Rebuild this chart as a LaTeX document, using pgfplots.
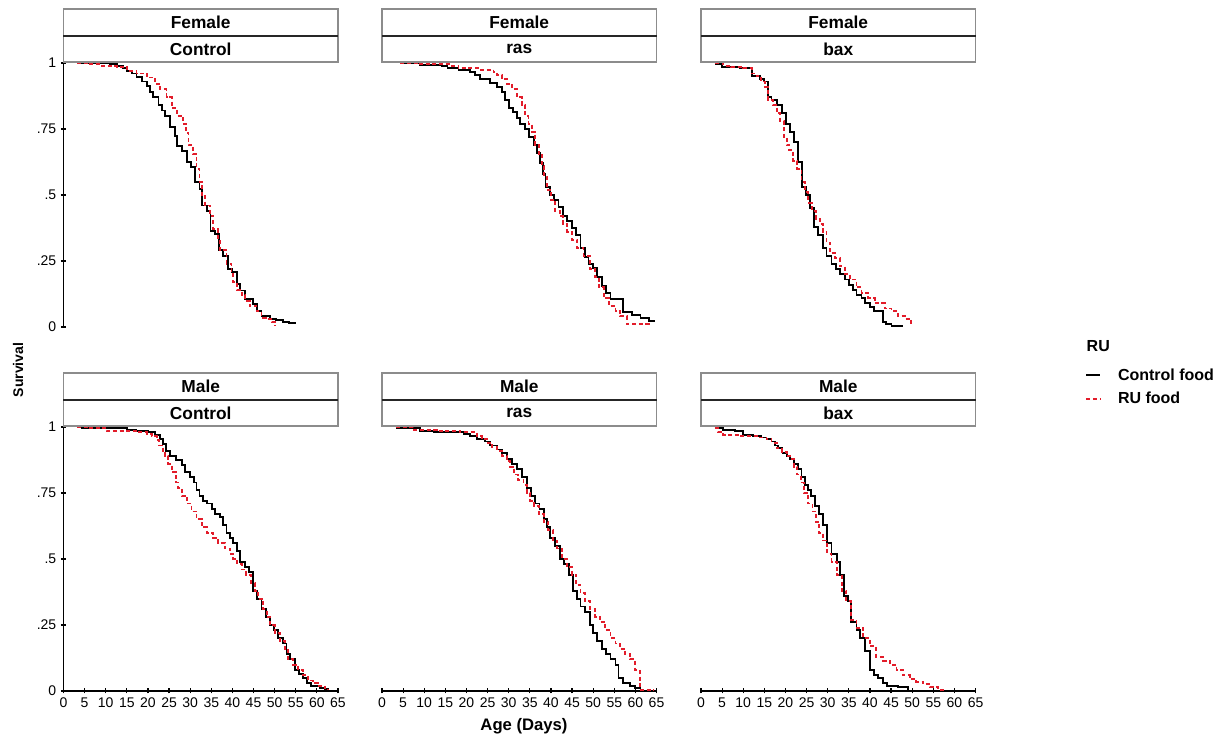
\documentclass[border=0pt]{standalone}
\usepackage{pgfplots}
\pgfplotsset{compat=1.18}
\usepackage{pgfplotstable}
\usepackage{fontspec}
\setmainfont{Liberation Sans}
\definecolor{rured}{RGB}{226,28,42}
\definecolor{stripgray}{RGB}{140,140,140}

% Female Control
\pgfplotstableread{
x y
3.2 1
11 0.995
12.6 0.99
14 0.98
15 0.97
16.2 0.96
17.3 0.946
18.5 0.93
19.7 0.914
20.5 0.89
21.3 0.87
22.5 0.84
23.3 0.82
24.1 0.80
25.2 0.756
26.4 0.725
26.8 0.687
28 0.668
29.2 0.624
30.1 0.605
31.1 0.548
32.2 0.523
32.9 0.46
33.9 0.44
34.8 0.365
35.9 0.352
36.9 0.293
37.8 0.27
39 0.22
40 0.207
41 0.163
41.9 0.138
43 0.106
44.9 0.087
45.9 0.062
46.9 0.04
48.9 0.03
50.4 0.028
52 0.02
53.5 0.015
54.8 0.011
}\fcb
\pgfplotstableread{
x y
3.2 1
6 0.995
8.7 0.99
12.6 0.985
15 0.97
17.3 0.96
19.7 0.945
21.7 0.92
22.9 0.90
24.4 0.87
25.6 0.83
26.8 0.80
28.2 0.77
29 0.735
29.6 0.69
30.7 0.655
31.5 0.60
32.2 0.55
32.7 0.50
33.5 0.46
34.7 0.42
35.5 0.37
36.6 0.33
37 0.29
38.6 0.24
39.8 0.20
40.2 0.17
41 0.14
42.2 0.12
43 0.10
44.1 0.08
45.7 0.06
46.9 0.035
48 0.03
49.3 0.02
50 0.005
}\fcr
% Female ras
\pgfplotstableread{
x y
4.3 1
9 0.994
14.2 0.99
15.5 0.98
18.1 0.975
20.9 0.965
22.1 0.955
23.2 0.94
25.6 0.925
27.2 0.91
28.4 0.89
29.2 0.86
30 0.83
31.1 0.815
31.9 0.79
32.7 0.77
33.9 0.75
34.9 0.72
35.9 0.69
36.7 0.66
37.5 0.62
38.1 0.58
38.7 0.53
39.8 0.50
40.8 0.48
41.8 0.455
42.8 0.42
43.8 0.40
45 0.375
46 0.35
47 0.30
48.1 0.265
48.9 0.24
50 0.225
50.9 0.19
52.1 0.155
53.1 0.13
54.1 0.105
57 0.056
59.2 0.045
61.2 0.035
63.2 0.022
64.7 0.022
}\frb
\pgfplotstableread{
x y
4.3 1
9 0.995
16.1 0.99
18.1 0.98
23.2 0.975
26.4 0.965
27.2 0.955
28.4 0.94
29.6 0.92
30.8 0.90
31.9 0.87
33.1 0.84
33.9 0.80
34.7 0.77
35.5 0.74
36.3 0.69
37.1 0.65
37.9 0.61
38.4 0.57
39 0.52
40 0.48
41 0.44
42.1 0.42
42.8 0.39
43.8 0.36
45 0.33
46.2 0.30
47.7 0.27
49.2 0.22
50.5 0.19
51.3 0.15
52.5 0.11
53.7 0.08
55.3 0.06
56.4 0.04
58 0.01
63.2 0.005
63.6 0.005
}\frr
% Female bax
\pgfplotstableread{
x y
3.3 0.995
4.9 0.985
9.2 0.98
12 0.95
13.9 0.94
14.9 0.93
15.9 0.87
16.7 0.86
18 0.84
19.1 0.81
20.1 0.77
21 0.74
22 0.70
23 0.625
24 0.53
24.8 0.50
25.8 0.45
26.8 0.38
27.7 0.35
28.8 0.30
29.7 0.27
30.9 0.24
31.9 0.22
32.9 0.20
34 0.18
35.1 0.16
36 0.14
36.8 0.12
38 0.11
38.8 0.09
40 0.075
40.9 0.06
43 0.02
43.9 0.01
45.1 0.005
47.8 0.005
}\fbb
\pgfplotstableread{
x y
3.3 1
5.3 0.99
7.2 0.985
10 0.98
12 0.96
13.2 0.95
14.3 0.93
15.1 0.91
15.9 0.86
17.1 0.84
18 0.81
18.8 0.78
19.6 0.72
20.3 0.69
20.9 0.67
21.8 0.63
22.8 0.60
23.8 0.55
24.6 0.51
25.4 0.47
26.2 0.44
27.2 0.41
28.1 0.39
28.9 0.36
29.7 0.32
30.5 0.28
31.7 0.26
32.9 0.23
34 0.20
35.2 0.18
36.8 0.15
38 0.13
39.6 0.11
41.1 0.09
43.5 0.07
45.1 0.06
46.6 0.04
48.2 0.03
49.8 0.015
50.2 0.015
}\fbr
% Male Control
\pgfplotstableread{
x y
3.2 1
4.3 0.995
15 0.99
17.3 0.985
20.1 0.98
21.7 0.97
22.9 0.955
23.6 0.935
24.3 0.91
25.2 0.89
26.6 0.875
28 0.855
28.8 0.83
29.9 0.81
30.9 0.79
31.5 0.76
32.2 0.74
33.1 0.72
34 0.71
35.1 0.69
35.9 0.67
37 0.66
37.7 0.63
38.6 0.60
39.4 0.58
40.2 0.56
41 0.53
41.8 0.49
42.9 0.47
44 0.45
44.9 0.38
45.9 0.35
46.9 0.31
47.9 0.28
48.9 0.25
49.8 0.23
50.8 0.20
51.9 0.18
52.8 0.14
53.7 0.12
54.8 0.08
55.8 0.065
56.7 0.05
57.7 0.03
58.7 0.02
60.7 0.01
61.9 0.006
62.6 0
}\mcb
\pgfplotstableread{
x y
3.2 1
5.5 0.995
10.2 0.985
17.3 0.98
19.7 0.975
20.9 0.965
22.1 0.95
22.7 0.93
23.6 0.91
24 0.89
24.8 0.86
25.6 0.83
26.6 0.79
27.2 0.77
28 0.74
29.2 0.71
30.3 0.68
31.5 0.65
32.7 0.62
33.9 0.60
35.5 0.58
36.6 0.56
38.2 0.54
39.4 0.52
40.2 0.50
41.1 0.48
42.2 0.46
43.3 0.44
44.3 0.41
45.3 0.38
46.1 0.35
47.3 0.31
48.1 0.28
48.9 0.25
50 0.22
51.2 0.19
52.4 0.16
53.2 0.12
54.4 0.10
55.6 0.08
56.7 0.06
57.9 0.04
59.1 0.03
60.3 0.02
61.9 0.01
62.6 0.005
}\mcr
% Male ras
\pgfplotstableread{
x y
3.3 0.995
9 0.985
12.2 0.98
19.3 0.975
20.9 0.965
22.5 0.955
24.4 0.945
25.6 0.93
27.2 0.915
28.4 0.90
29.6 0.88
30.8 0.86
31.9 0.84
33.1 0.81
34.3 0.77
35.3 0.74
36.3 0.71
37.3 0.69
38.3 0.65
39.1 0.62
39.8 0.58
41 0.55
42.1 0.50
43 0.48
44.2 0.44
45.2 0.38
46.2 0.35
47 0.32
48.1 0.30
49.2 0.25
50 0.22
50.9 0.19
52.1 0.16
53.1 0.14
54.1 0.12
55.3 0.10
56 0.05
57.1 0.03
58.8 0.02
60 0.01
61.2 0
}\mrb
\pgfplotstableread{
x y
3.3 1
7.4 0.99
13 0.985
18.5 0.98
22.5 0.965
23.6 0.955
24.8 0.94
26 0.925
27.2 0.91
28.4 0.89
29.6 0.87
30.4 0.85
31.3 0.82
32.3 0.80
33.5 0.78
34.3 0.75
35.1 0.72
36 0.70
37.1 0.67
38.3 0.64
39.4 0.61
40.5 0.57
41.4 0.54
42.6 0.50
43.8 0.47
45 0.44
46 0.40
47 0.37
48.1 0.34
49.3 0.31
50.5 0.28
51.7 0.26
52.9 0.23
54.1 0.20
55.3 0.18
56.4 0.16
57.6 0.14
58.8 0.12
60 0.08
61 0.005
64.3 0.005
}\mrr
% Male bax
\pgfplotstableread{
x y
3.3 0.995
5.3 0.99
8 0.985
10 0.97
12.4 0.965
14.3 0.96
15.5 0.955
16.7 0.945
17.5 0.93
18.3 0.92
19.3 0.90
20.3 0.89
21 0.88
22 0.86
23 0.84
23.8 0.81
24.6 0.78
25.4 0.76
26.1 0.74
26.9 0.70
27.9 0.67
28.9 0.63
29.9 0.56
30.9 0.52
32.1 0.49
33 0.44
33.8 0.36
34.8 0.34
35.6 0.26
36.8 0.23
37.7 0.20
38.8 0.15
40 0.08
40.9 0.06
41.9 0.05
43.1 0.03
44 0.02
46.6 0.015
49 0
}\mbb
\pgfplotstableread{
x y
3.3 0.995
4.1 0.98
5.3 0.97
9.2 0.965
13.2 0.96
15.5 0.955
16.7 0.94
17.9 0.92
19.1 0.905
20.3 0.89
21.2 0.88
22 0.85
22.8 0.82
23.6 0.79
24.3 0.75
25.4 0.71
26.4 0.68
27.2 0.64
27.9 0.60
28.9 0.57
29.9 0.52
30.9 0.49
32.1 0.44
33.3 0.38
34.4 0.34
35.6 0.27
36.8 0.24
38.4 0.20
40 0.17
41.5 0.13
43.1 0.115
44.7 0.10
46.3 0.08
47.8 0.06
49.4 0.045
51 0.035
52.6 0.025
54.2 0.015
56.1 0.005
57.7 0.005
}\mbr

\newcommand\lblfont{\fontsize{10.5}{12}\selectfont}
\newcommand\stripfont{\fontsize{13}{15}\selectfont}
\newcommand\legfont{\fontsize{12}{14}\selectfont}
\pgfplotsset{
  every non boxed x axis/.append style={x axis line style={-}},
  every non boxed y axis/.append style={y axis line style={-}},
  panel/.style={scale only axis, width=205.9pt, height=198pt,
    xmin=0, xmax=65, ymin=0, ymax=1,
    axis line style={black, line width=1.1pt},
    tick style={black, line width=0.9pt},
    tick align=outside, major tick length=3.75pt,
    xtick={0,5,...,65}, ytick={0,0.25,0.5,0.75,1},
    yticklabels={0,.25,.5,.75,1},
    ticklabel style={font=\lblfont},
    /pgf/number format/assume math mode=true,
    anchor=south west},
  blk/.style={const plot, black, line width=1.4pt, mark=none},
  rdd/.style={const plot, rured, line width=1.4pt, mark=none, dash pattern=on 3pt off 2pt},
}
\newcommand\strip[3]{%
  \draw[stripgray, line width=0.8pt, fill=white] ([yshift=0.75pt]#1.north west) rectangle ([yshift=40.5pt]#1.north east);
  \draw[black!85, line width=1.3pt] ([yshift=20.4pt]#1.north west) -- ([yshift=20.4pt]#1.north east);
  \node[font=\bfseries\stripfont] at ([yshift=30.6pt]#1.north) {#2};
  \node[font=\bfseries\stripfont] at ([yshift=10.6pt]#1.north) {#3};
}

\begin{document}
\begin{tikzpicture}
\useasboundingbox (0,0) rectangle (915pt,553.5pt);
% top row
\begin{axis}[panel, name=tl, at={(47.6pt,308.25pt)}, axis lines=left, hide x axis]
  \addplot[blk] table {\fcb};
  \addplot[rdd] table {\fcr};
\end{axis}
\begin{axis}[panel, name=tm, at={(286.5pt,308.25pt)}, hide axis]
  \addplot[blk] table {\frb};
  \addplot[rdd] table {\frr};
\end{axis}
\begin{axis}[panel, name=tr, at={(525.75pt,308.25pt)}, hide axis]
  \addplot[blk] table {\fbb};
  \addplot[rdd] table {\fbr};
\end{axis}
% bottom row
\begin{axis}[panel, name=bl, at={(47.6pt,35.25pt)}, axis lines=left]
  \addplot[blk] table {\mcb};
  \addplot[rdd] table {\mcr};
\end{axis}
\begin{axis}[panel, name=bm, at={(286.5pt,35.25pt)}, axis lines=left, hide y axis]
  \addplot[blk] table {\mrb};
  \addplot[rdd] table {\mrr};
\end{axis}
\begin{axis}[panel, name=br, at={(525.75pt,35.25pt)}, axis lines=left, hide y axis,
    legend style={at={(1.385,1.243)}, anchor=north west, draw=none, fill=none,
      font=\bfseries\legfont, row sep=3.5pt},
    legend cell align=left,
    legend image code/.code={\draw[#1] (0pt,0pt) -- (10.5pt,0pt); \path (21pt,0pt);}]
  \addplot[blk] table {\mbb};
  \addlegendentry{Control food}
  \addplot[rdd] table {\mbr};
  \addlegendentry{RU food}
\end{axis}
\strip{tl}{Female}{Control}
\strip{tm}{Female}{ras}
\strip{tr}{Female}{bax}
\strip{bl}{Male}{Control}
\strip{bm}{Male}{ras}
\strip{br}{Male}{bax}
\node[font=\bfseries\lblfont, rotate=90] at (13.5pt,276pt) {Survival};
\node[font=\bfseries\fontsize{12.5}{14}\selectfont] at (393pt,9pt) {Age (Days)};
\node[font=\bfseries\legfont, anchor=west] at (811.5pt,294pt) {RU};
\end{tikzpicture}
\end{document}
